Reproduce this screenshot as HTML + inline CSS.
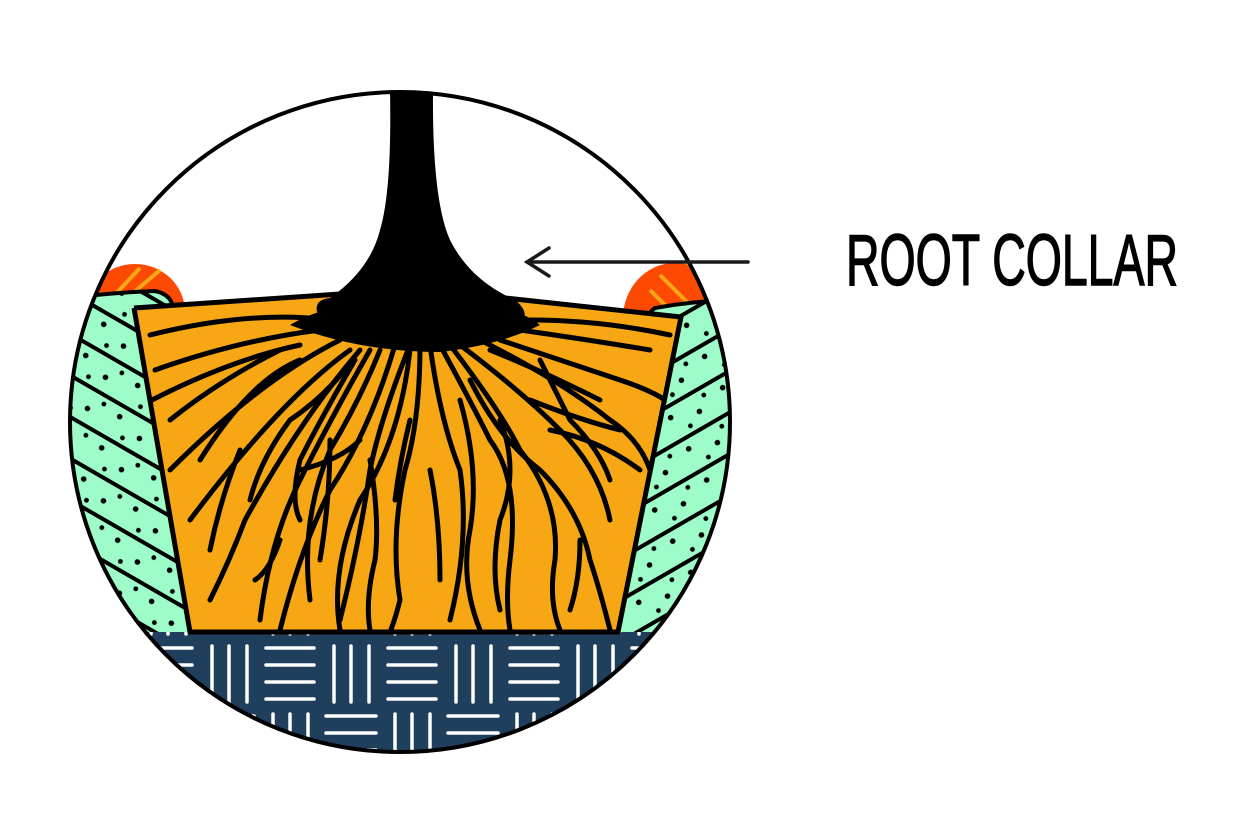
<!DOCTYPE html>
<html><head><meta charset="utf-8"><style>html,body{margin:0;padding:0;background:#fff}svg{display:block}</style></head>
<body>
<svg width="1234" height="822" viewBox="0 0 1234 822" xmlns="http://www.w3.org/2000/svg">
<defs>
<clipPath id="cc"><circle cx="400" cy="422" r="330"/></clipPath>
<clipPath id="pot"><path d="M134,308 L340,294 L505,298 L681,317 L618,632 L190,632 Z"/></clipPath>
<pattern id="weave" x="200" y="640" width="122" height="136" patternUnits="userSpaceOnUse">
<rect width="122" height="136" fill="#1f3f5c"/>
<g stroke="#fff" stroke-width="3.5" stroke-linecap="round">
<path d="M12,6V62M29,6V62M47,6V62"/>
<path d="M66,8H114M66,25H114M66,42H114M66,59H114"/>
<path d="M4,76H54M4,93H54M4,110H54M4,127H54"/>
<path d="M73,74V130M90,74V130M108,74V130"/>
</g></pattern>
<pattern id="hl" width="60" height="36" patternUnits="userSpaceOnUse" patternTransform="rotate(30)">
<rect width="60" height="36" fill="#9dfcc8"/>
<path d="M0,2H60" stroke="#000" stroke-width="4"/>
<circle cx="12" cy="13" r="2.8"/><circle cx="40" cy="22" r="2.8"/><circle cx="25" cy="30" r="2.4"/><circle cx="52" cy="10" r="2.4"/>
</pattern>
<pattern id="hr" width="60" height="36" patternUnits="userSpaceOnUse" patternTransform="rotate(-30)">
<rect width="60" height="36" fill="#9dfcc8"/>
<path d="M0,2H60" stroke="#000" stroke-width="4"/>
<circle cx="12" cy="13" r="2.8"/><circle cx="40" cy="22" r="2.8"/><circle cx="25" cy="30" r="2.4"/><circle cx="52" cy="10" r="2.4"/>
</pattern>
</defs>
<g clip-path="url(#cc)">
<ellipse cx="135" cy="312" rx="50" ry="48" fill="#fc4a02"/>
<ellipse cx="675" cy="318" rx="52" ry="55" fill="#fc4a02"/>
<g stroke="#f7a614" stroke-width="4"><path d="M110,300L140,268M125,300L160,270M650,290L690,330M660,275L700,315"/></g>
<path d="M60,300 Q100,293 155,291 Q178,296 172,320 L190,634 L150,640 L60,640Z" fill="url(#hl)" stroke="#000" stroke-width="4"/>
<path d="M740,300 Q700,300 655,308 Q640,318 660,330 L616,634 L660,640 L740,640Z" fill="url(#hr)" stroke="#000" stroke-width="4"/>
<rect x="60" y="632" width="700" height="140" fill="url(#weave)"/>
<path d="M134,308 L340,294 L505,298 L681,317 L618,632 L190,632 Z" fill="#f7a614"/>
<g clip-path="url(#pot)" fill="none" stroke="#000" stroke-width="5" stroke-linecap="round">
<path d="M290,325 Q330,300 420,298 Q510,300 540,325 Q500,345 440,352 Q360,352 290,325Z" fill="#000" stroke="none"/>
<path d="M330,320 Q250,310 150,335"/><path d="M320,330 Q240,340 155,370"/><path d="M300,345 Q230,360 152,400"/>
<path d="M340,340 Q260,380 170,470"/><path d="M350,350 Q280,400 190,520"/><path d="M360,350 Q300,420 245,520 Q230,560 210,600"/>
<path d="M370,350 Q330,420 300,480 Q270,540 260,620"/><path d="M380,350 Q360,400 330,450 Q300,520 310,600"/>
<path d="M395,345 Q370,430 330,490 Q300,550 280,630"/><path d="M355,360 Q320,420 300,460 Q290,500 300,520"/>
<path d="M410,345 Q380,420 370,470 Q360,540 340,620"/><path d="M410,350 Q400,440 360,500 Q330,570 340,630"/>
<path d="M370,460 Q380,520 375,560 Q365,600 370,630"/><path d="M360,440 Q340,460 300,470"/>
<path d="M420,345 Q420,420 405,470 Q390,540 400,600 Q395,620 390,632"/>
<path d="M430,345 Q440,420 460,470 Q470,540 450,620"/><path d="M440,345 Q470,400 490,440 Q520,480 510,560 Q505,600 510,630"/>
<path d="M450,345 Q500,410 520,450 Q560,500 555,560 Q548,600 560,630"/>
<path d="M460,345 Q520,390 560,430 Q600,470 610,520"/><path d="M480,340 Q560,380 610,420 Q640,440 650,470"/>
<path d="M500,340 Q560,360 620,380 Q650,390 665,400"/><path d="M520,330 Q590,340 650,350"/><path d="M530,320 Q600,320 670,335"/>
<path d="M470,380 Q500,440 540,470 Q580,510 590,560 Q600,590 610,630"/><path d="M460,400 Q480,470 470,530 Q460,580 480,630"/>
<path d="M500,420 Q520,470 500,520 Q490,570 500,610"/><path d="M540,360 Q560,400 570,420 Q600,450 610,480"/>
<path d="M550,430 Q600,440 640,470"/><path d="M530,400 Q580,420 620,430"/><path d="M490,350 Q540,370 600,400"/>
<path d="M300,360 Q250,380 200,460"/><path d="M280,350 Q220,380 170,420"/><path d="M345,370 Q320,400 290,420 Q260,460 250,500"/>
<path d="M240,450 Q220,500 210,550"/><path d="M330,440 Q330,500 320,560"/><path d="M280,540 Q270,570 255,580"/>
<path d="M410,420 Q400,460 395,500"/><path d="M580,540 Q580,580 570,610"/><path d="M430,470 Q440,520 440,580"/>
</g>
<path d="M134,308 L340,294" fill="none" stroke="#000" stroke-width="5"/>
<path d="M505,298 L681,317 L618,632 L190,632 L134,308" fill="none" stroke="#000" stroke-width="5" stroke-linejoin="round"/>
<path d="M390,90 L433,90 Q432,200 450,240 Q470,280 515,300 Q540,320 500,335 Q420,345 320,320 Q310,300 330,298 Q370,270 380,230 Q392,190 390,90Z" fill="#000"/>
</g>
<circle cx="400" cy="422" r="330" fill="none" stroke="#000" stroke-width="4"/>
<g stroke="#1a1a1a" stroke-width="3.5" stroke-linecap="round" fill="none">
<path d="M527,262H748"/><path d="M549,248L527,262L549,276"/>
</g>
<text x="846" y="285" font-family="Liberation Sans Narrow, Liberation Sans, sans-serif" font-size="72" textLength="332" lengthAdjust="spacingAndGlyphs" fill="#000" stroke="#000" stroke-width="1.5">ROOT COLLAR</text>
</svg>
</body></html>
